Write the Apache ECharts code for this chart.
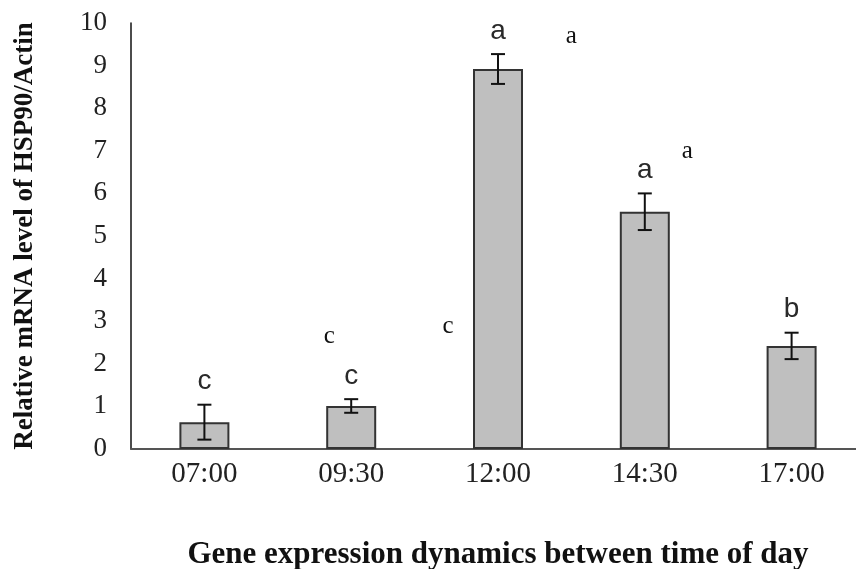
<!DOCTYPE html>
<html>
<head>
<meta charset="utf-8">
<script src="https://cdn.jsdelivr.net/npm/echarts@6/dist/echarts.min.js"></script>
<style>html,body{margin:0;padding:0;background:#fff;}#chart{width:856px;height:569px;}</style>
</head>
<body>
<div id="chart"></div>
<script>
const categories = ['07:00', '09:30', '12:00', '14:30', '17:00'];
const values = [0.63, 1.01, 8.92, 5.57, 2.42];
const errors = [0.41, 0.16, 0.35, 0.43, 0.31];
const sigLetters = ['c', 'c', 'a', 'a', 'b'];
// stray annotation letters: [x position on 0..5 category scale, y value, text]
const strayLetters = [
  [3.00, 9.68, 'a'],
  [3.79, 6.98, 'a'],
  [1.35, 2.64, 'c'],
  [2.16, 2.87, 'c']
];
const yTicks = { min: 0, max: 10, interval: 1 };

const serif = '"Liberation Serif", "Times New Roman", serif';
const sans = '"Liberation Sans", Arial, sans-serif';

const chart = echarts.init(document.getElementById('chart'), null, { renderer: 'canvas' });

chart.setOption({
  backgroundColor: '#ffffff',
  animation: false,
  grid: { left: 131, width: 734, top: 23, bottom: 120, containLabel: false, outerBoundsMode: 'none' },
  xAxis: [{
    type: 'category',
    data: categories,
    axisLine: { lineStyle: { color: '#555', width: 2 } },
    axisTick: { show: false },
    axisLabel: { fontFamily: serif, fontSize: 29, color: '#222', margin: 11 },
    name: 'Gene expression dynamics between time of day',
    nameLocation: 'middle',
    nameGap: 90,
    nameTextStyle: { fontFamily: serif, fontSize: 31, fontWeight: 'bold', color: '#111' }
  }, {
    type: 'value', min: 0, max: 5, show: false
  }],
  yAxis: {
    type: 'value',
    min: yTicks.min, max: yTicks.max, interval: yTicks.interval,
    splitLine: { show: false },
    axisTick: { show: false },
    axisLine: { show: true, lineStyle: { color: '#111', width: 1.5 } },
    axisLabel: { fontFamily: serif, fontSize: 27, color: '#222', margin: 24 },
    name: 'Relative mRNA level of HSP90/Actin',
    nameLocation: 'middle',
    nameRotate: 90,
    nameGap: 92,
    nameTextStyle: { fontFamily: serif, fontSize: 27, fontWeight: 'bold', color: '#111' }
  },
  series: [{
    type: 'bar',
    data: values,
    barWidth: 50,
    itemStyle: { color: '#bfbfbf', borderColor: '#333', borderWidth: 2 },
    z: 2
  }, {
    type: 'custom',
    data: values.map((v, i) => [i, v, errors[i]]),
    renderItem: function (params, api) {
      const i = api.value(0), v = api.value(1), e = api.value(2);
      const top = api.coord([i, v + e]);
      const bot = api.coord([i, v - e]);
      const hw = 7;
      return {
        type: 'group',
        children: [
          { type: 'line', shape: { x1: top[0], y1: top[1], x2: bot[0], y2: bot[1] }, style: { stroke: '#111', lineWidth: 2 } },
          { type: 'line', shape: { x1: top[0] - hw, y1: top[1], x2: top[0] + hw, y2: top[1] }, style: { stroke: '#111', lineWidth: 2 } },
          { type: 'line', shape: { x1: bot[0] - hw, y1: bot[1], x2: bot[0] + hw, y2: bot[1] }, style: { stroke: '#111', lineWidth: 2 } },
          { type: 'text', x: top[0], y: top[1] - 9, style: { text: sigLetters[params.dataIndex], fontFamily: sans, fontSize: 28, fontWeight: 500, fill: '#2a2a2a', align: 'center', verticalAlign: 'bottom' } }
        ]
      };
    },
    z: 5
  }, {
    type: 'custom',
    xAxisIndex: 1,
    data: strayLetters,
    renderItem: function (params, api) {
      const p = api.coord([api.value(0), api.value(1)]);
      return {
        type: 'text', x: p[0], y: p[1],
        style: { text: strayLetters[params.dataIndex][2], fontFamily: serif, fontSize: 25, fill: '#111', align: 'center', verticalAlign: 'middle' }
      };
    },
    z: 6
  }]
});
</script>
</body>
</html>
